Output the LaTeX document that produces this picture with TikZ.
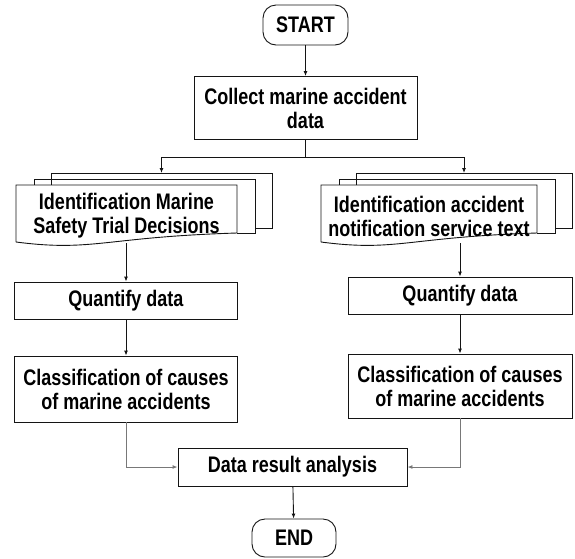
\documentclass[tikz,border=0pt]{standalone}
\usepackage{fontspec}
\setmainfont{Liberation Sans}[FakeStretch=0.8]
\usepackage{tikz}
\usetikzlibrary{arrows.meta,positioning}
\usepackage{xcolor}
\definecolor{lnblack}{RGB}{20,20,20}
\definecolor{lngray}{RGB}{120,120,120}
\tikzstyle{arrow} = [line width=0.9pt,-{Latex[length=5pt,width=4pt]},color=lnblack]
\tikzstyle{procbox} = [draw=lnblack, line width=0.9pt, inner sep=0pt, align=center, font=\fontsize{22.5}{24}\selectfont\bfseries]
\tikzstyle{termbox} = [procbox, rounded corners=13pt]
\tikzstyle{doctext} = [inner sep=0pt, align=center, font=\fontsize{22.5}{24}\selectfont\bfseries]

% stack of pages: #1 name, #2 left, #3 top, #4 width
\newcommand{\docstack}[4]{%
  \draw[line width=0.9pt, lnblack] ({#2+35},{#3}) -- ({#2+35},{#3-12}) -- ({#2+#4+35},{#3-12})
    -- ({#2+#4+35},{#3+43}) -- ({#2+#4+18},{#3+43});
  \draw[line width=0.9pt, lnblack] ({#2+18},{#3}) -- ({#2+18},{#3-6}) -- ({#2+#4+18},{#3-6})
    -- ({#2+#4+18},{#3+48}) -- ({#2+#4},{#3+48});
  \draw[line width=0.9pt, lnblack] ({#2},{#3+57}) -- ({#2},{#3}) -- ({#2+#4},{#3}) -- ({#2+#4},{#3+48})
    .. controls ({#2+0.4*#4},{#3+52}) and ({#2+0.35*#4},{#3+67}) .. ({#2},{#3+57});
  \coordinate (#1top) at ({#2+#4/2+35},{#3-12});
}

\begin{document}
\begin{tikzpicture}[x=1pt, y=-1pt]
\useasboundingbox (0,0) rectangle (575,558);

% Start and collection
\node[termbox, minimum width=85pt, minimum height=40pt] (start) at (305.5,25) {START};
\node[procbox, minimum width=223pt, minimum height=63pt] (collect) at (305.5,108) {Collect marine accident\\data};

% Document stacks
\docstack{ldoc}{16}{185}{221}
\docstack{rdoc}{321}{185}{216}
\node[doctext, minimum width=221pt, minimum height=54pt] (ldoc) at (126.5,216) {Identification Marine\\Safety Trial Decisions};
\node[doctext, minimum width=216pt, minimum height=54pt] (rdoc) at (429,216) {Identification accident\\notification service text};

% Left branch
\node[procbox, minimum width=223pt, minimum height=37pt] (lquant) at (126,300.5) {Quantify data};
\node[procbox, minimum width=223pt, minimum height=66pt] (lclass) at (126,389) {Classification of causes\\of marine accidents};

% Right branch
\node[procbox, minimum width=224pt, minimum height=37pt] (rquant) at (460,295.5) {Quantify data};
\node[procbox, minimum width=224pt, minimum height=64pt] (rclass) at (460,386) {Classification of causes\\of marine accidents};

% Analysis and end
\node[procbox, minimum width=229pt, minimum height=38pt] (data) at (292.5,467) {Data result analysis};
\node[termbox, minimum width=84pt, minimum height=38pt] (end) at (294,538) {END};

% Connectors
\draw[arrow] (start) -- (collect);
\coordinate (split) at (305.5,157);
\draw[line width=0.9pt, lnblack] (collect.south) -- (split);
\draw[arrow] (split) -| (ldoctop);
\draw[arrow] (split) -| (rdoctop);
\draw[arrow] (ldoc.south -| lquant.north) -- (lquant);
\draw[arrow] (rquant.north |- rdoc.south) -- (rquant);
\draw[arrow] (lquant) -- (lclass);
\draw[arrow] (rquant) -- (rclass);
\draw[arrow, lngray] (lclass.south) |- (data.west);
\draw[arrow, lngray] (rclass.south) |- (data.east);
\draw[arrow] (data) -- (end);
\end{tikzpicture}
\end{document}
